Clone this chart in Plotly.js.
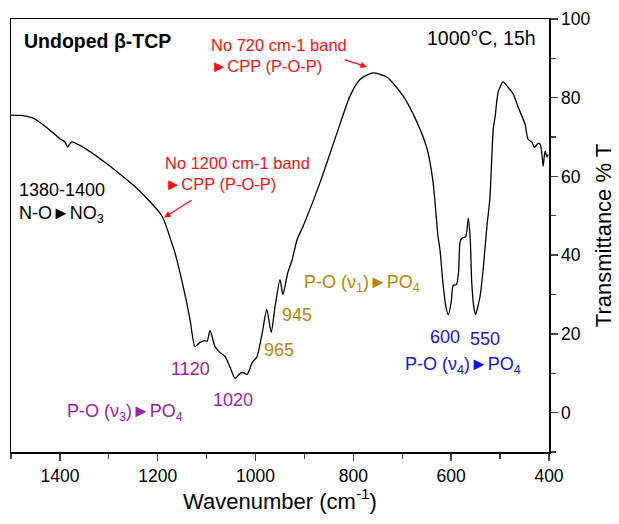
<!DOCTYPE html>
<html>
<head>
<meta charset="utf-8">
<script src="https://cdn.plot.ly/plotly-3.0.1.min.js"></script>
<style>html,body{margin:0;padding:0;background:#fff}#chart{width:619px;height:524px}</style>
</head>
<body>
<div id="chart"></div>
<script>
// FTIR spectrum of undoped beta-TCP
const wavenumber = [1500,1480,1465,1455,1445,1435,1424,1412,1400,1390,1384,1376,1359,1308,1240,1191,1169,1165,1148,1134,1124,1114,1103,1099,1093,1083,1073,1062,1052,1042,1032,1026,1017,1007,997,987,977,968,960,950,944,934,925,915,903,868,833,807,786,760,731,698,670,649,637,627,623,617,611,606,600,596,589,585,582,578,570,565,561,558,553,550,545,541,534,527,521,514,510,504,494,484,473,463,449,443,435,430,422,418,414,412,408,404,402];
const transmittance = [75.6,75.5,75.2,74.8,74.1,73.2,72.1,70.9,69.6,68.8,67.5,68.8,67.9,63.6,56.7,49.9,42.2,40.7,32.1,23.7,16.8,17.8,18.3,18.1,20.9,16.8,15.3,14.2,11.5,8.7,9.9,10.2,9.7,12.7,14.2,19.8,26.2,20.4,27.0,33.8,30.0,35.6,38.9,44.0,47.3,58.5,71.2,80.4,84.7,86.3,85.2,80.4,73.8,66.9,58.5,44.8,41.5,33.1,27.0,24.9,28.0,32.3,32.6,35.6,43.3,44.3,44.8,49.4,44.0,33.1,26.2,24.9,27.2,29.5,37.2,47.3,54.2,72.0,75.3,81.4,84.0,82.7,80.9,77.6,73.3,69.5,68.7,67.4,68.4,68.2,65.1,62.6,66.4,64.9,65.6];

const xTicks = [1400,1200,1000,800,600,400];
const yTicks = [0,20,40,60,80,100];

// band labels: [text, x, y, colour, xanchor]
const labelText = ["<b>Undoped β-TCP</b>","1000°C, 15h","No 720 cm-1 band<br>►CPP (P-O-P)","No 1200 cm-1 band<br>►CPP (P-O-P)","1380-1400<br>N-O►NO<sub>3</sub>","1120","1020","P-O (ν<sub>3</sub>)►PO<sub>4</sub>","965","945","P-O (ν<sub>1</sub>)►PO<sub>4</sub>","600","550","P-O (ν<sub>4</sub>)►PO<sub>4</sub>"];
const labelX = [1477,422,1095,1189,1488,1134,1046,1267,952,915,905,613,531,698];
const labelY = [94.4,95.2,90.8,60.8,53.2,11.2,3.3,0,15.8,24.9,32.9,19.3,18.8,12.0];
const labelColor = ["#000","#000","#ff1010","#ff1010","#000","#a020a8","#a020a8","#a020a8","#b8860b","#b8860b","#b8860b","#1414e6","#1414e6","#1414e6"];
const labelAnchor = ["left","right","left","left","left","center","center","center","center","center","left","center","center","left"];
const labelSize = [19.5,19.5,16.5,16.5,18,18,18,18,18,18,18,18,18,18];

const FONT = "Arial, 'Liberation Sans', sans-serif";

const annotations = labelText.map((t,i)=>({
  text:t, x:labelX[i], y:labelY[i], xref:'x', yref:'y',
  xanchor:labelAnchor[i], yanchor:'middle', align:'left', showarrow:false,
  font:{family:FONT, size:labelSize[i], color:labelColor[i]}
}));
// red pointer arrows
annotations.push({x:772, y:87.8, xref:'x', yref:'y', text:'', showarrow:true, ax:-24, ay:-8,
  arrowhead:2, arrowsize:1, arrowwidth:1.3, arrowcolor:'#ff1010'});
annotations.push({x:1187, y:49.6, xref:'x', yref:'y', text:'', showarrow:true, ax:29, ay:-18,
  arrowhead:2, arrowsize:1, arrowwidth:1.3, arrowcolor:'#ff1010'});

const trace = {x:wavenumber, y:transmittance, type:'scatter', mode:'lines',
  line:{color:'#000', width:1.3, shape:'spline', smoothing:0.6}, hoverinfo:'skip'};

const layout = {
  width:619, height:524,
  margin:{l:11, r:70, t:19, b:72},
  paper_bgcolor:'#fff', plot_bgcolor:'#fff',
  showlegend:false,
  font:{family:FONT, size:17.5, color:'#000'},
  xaxis:{range:[1500,400], tickvals:xTicks, ticks:'outside', ticklen:7, tickwidth:1.5,
    showline:true, linewidth:1.5, linecolor:'#000', mirror:true, showgrid:false, zeroline:false,
    minor:{dtick:100, tick0:0, ticks:'outside', ticklen:5, tickwidth:1.2, showgrid:false},
    tickfont:{size:17.5},
    title:{text:'Wavenumber (cm<sup>-1</sup>)', font:{size:22}, standoff:0}},
  yaxis:{range:[-10,100], side:'right', tickvals:yTicks, ticks:'outside', ticklen:7, tickwidth:1.5,
    showline:true, linewidth:1.5, linecolor:'#000', mirror:true, showgrid:false, zeroline:false,
    minor:{dtick:10, tick0:0, ticks:'outside', ticklen:5, tickwidth:1.2, showgrid:false},
    tickfont:{size:17.5},
    title:{text:'Transmittance % T', font:{size:22}, standoff:6}},
  annotations:annotations
};
Plotly.newPlot('chart',[trace],layout,{displayModeBar:false, staticPlot:true});
</script>
</body>
</html>
